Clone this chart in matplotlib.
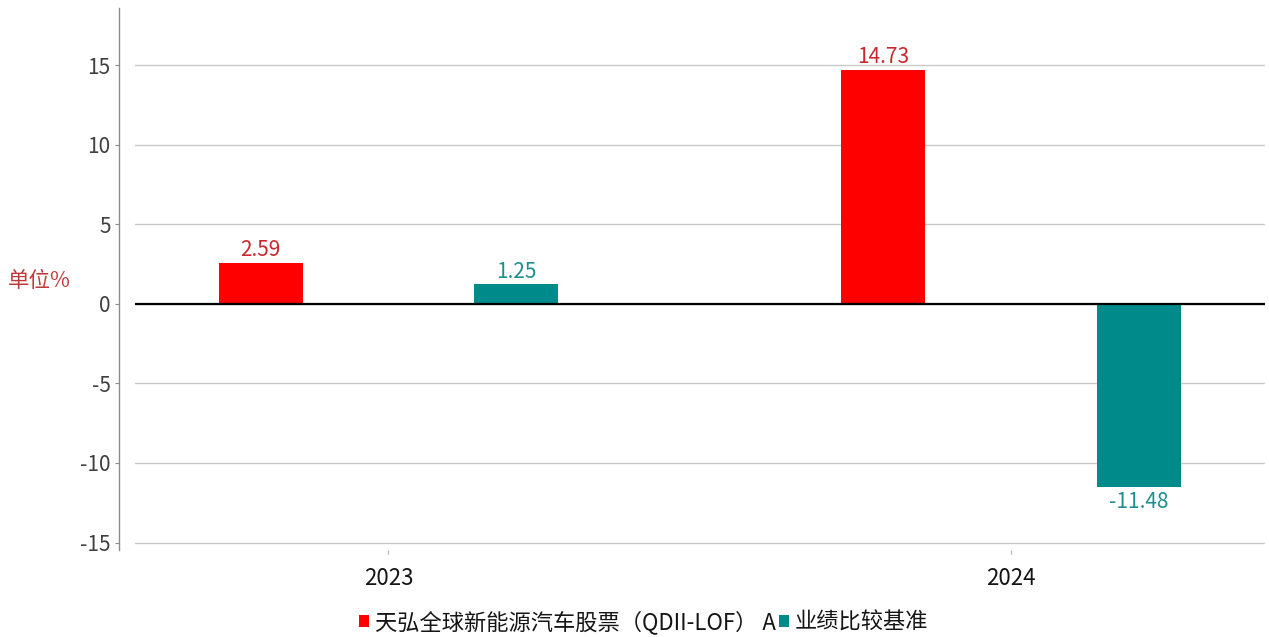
import matplotlib.pyplot as plt
import numpy as np

plt.rcParams["font.family"] = ["Noto Sans CJK SC", "DejaVu Sans"]

# data
years = ["2023", "2024"]
fund_returns = [2.59, 14.73]
bench_returns = [1.25, -11.48]
series_names = ["天弘全球新能源汽车股票（QDII-LOF） A", "业绩比较基准"]
y_ticks = [-15, -10, -5, 0, 5, 10, 15]

RED = "#FF0000"
TEAL = "#008B8B"
RED_TXT = "#C8282D"
TEAL_TXT = "#1F8E8E"

fig = plt.figure(figsize=(12.69, 6.37), dpi=100)
ax = fig.add_axes([135 / 1269, 1 - 550 / 637, 1130 / 1269, 542 / 637])

x = np.arange(len(years))
width = 0.135
offset = 0.205
b1 = ax.bar(x - offset, fund_returns, width, color=RED, label=series_names[0], zorder=3)
b2 = ax.bar(x + offset, bench_returns, width, color=TEAL, label=series_names[1], zorder=3)

# 막대 위/아래 수치
for bars, txt_color in ((b1, RED_TXT), (b2, TEAL_TXT)):
    for rect in bars:
        v = rect.get_height()
        cx = rect.get_x() + rect.get_width() / 2
        if v >= 0:
            ax.annotate(f"{v:.2f}", (cx, v), xytext=(0, 1), textcoords="offset points",
                        ha="center", va="bottom", fontsize=15, color=txt_color)
        else:
            ax.annotate(f"{v:.2f}", (cx, v), xytext=(0, -3), textcoords="offset points",
                        ha="center", va="top", fontsize=15, color=txt_color)

ax.set_xlim(-0.407, 1.408)
ax.set_ylim(-15.47, 18.6)
ax.set_yticks(y_ticks)
ax.set_yticklabels([str(t) for t in y_ticks])
ax.set_xticks(x)
ax.set_xticklabels(years)

ax.yaxis.grid(True, color="#C8C8C8", linewidth=1, zorder=0)
ax.axhline(0, color="black", linewidth=1.6, zorder=4)

for s in ("top", "right", "bottom"):
    ax.spines[s].set_visible(False)
ax.spines["left"].set_position(("outward", 11.5))
ax.spines["left"].set_color("#8C8C8C")
ax.spines["left"].set_linewidth(1)

ax.tick_params(axis="y", length=3, width=0.8, color="#8C8C8C", labelsize=15,
               labelcolor="#404040", pad=3)
ax.tick_params(axis="x", length=3, width=0.8, color="#B0B0B0", labelsize=16,
               labelcolor="#151515", pad=9)

fig.text(8 / 1269, 1 - 281 / 637, "单位%", color="#C03A3A", fontsize=15.5,
         ha="left", va="center")

fig.legend(loc="center", bbox_to_anchor=(0.507, 1 - 622 / 637), ncol=2, frameon=False,
           fontsize=16, handlelength=0.45, handleheight=0.45, handletextpad=0.25,
           columnspacing=0.15, borderaxespad=0, labelcolor="#151515")

fig.savefig("out.png", dpi=100)
